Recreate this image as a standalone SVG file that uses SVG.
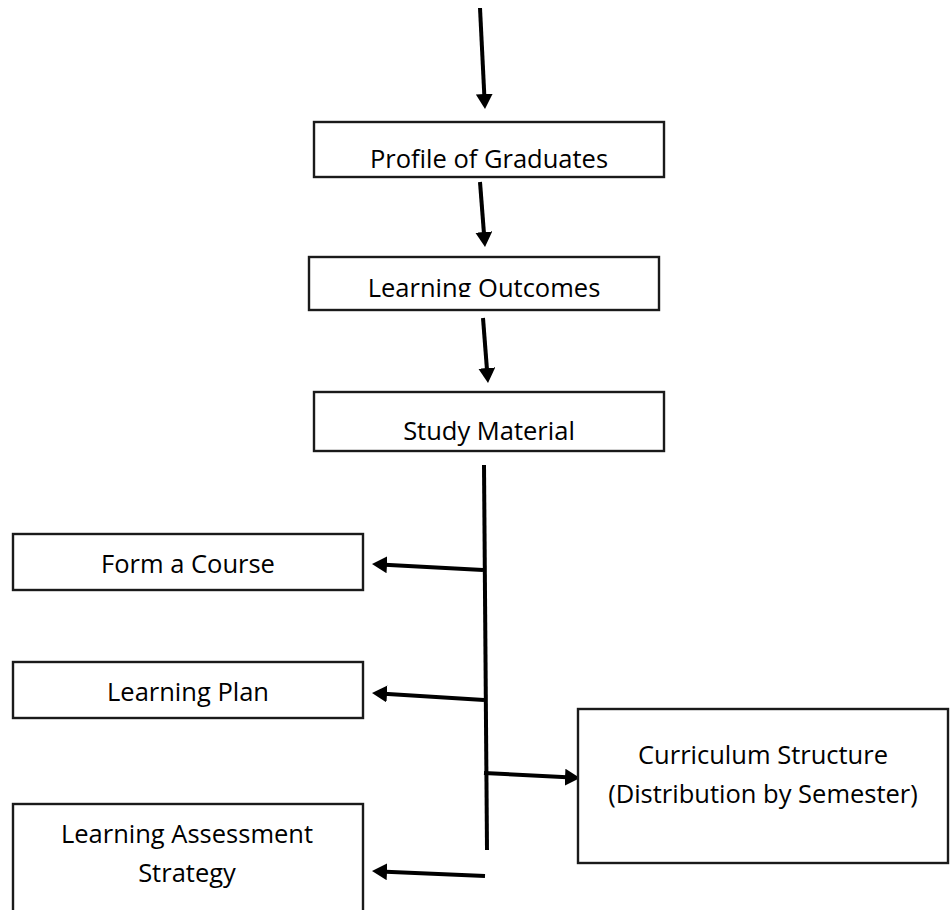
<svg xmlns="http://www.w3.org/2000/svg" width="950" height="910" viewBox="0 0 950 910">
<style>
.box{fill:#fff;stroke:#1a1a1a;stroke-width:2.4}
.lbl{font-family:"Open Sans","Noto Sans",sans-serif;font-size:25.5px;fill:#000;text-anchor:middle}
.c{stroke:#000;stroke-width:4;fill:none}
.ca{stroke:#000;stroke-width:4;fill:none;marker-end:url(#ah)}
</style>
<defs>
<marker id="ah" viewBox="0 0 15 17" refX="7" refY="8.5" markerWidth="15" markerHeight="17" markerUnits="userSpaceOnUse" orient="auto">
<path d="M0,0 L15,8.5 L0,17 z" fill="#000"/>
</marker>
<clipPath id="clipLO"><rect x="309" y="257" width="350" height="40"/></clipPath>
</defs>
<rect width="950" height="910" fill="#fff"/>
<g id="connectors">
<line class="ca" x1="480" y1="8" x2="484.6" y2="101"/>
<line class="ca" x1="480" y1="182" x2="484.4" y2="239"/>
<line class="ca" x1="483" y1="318" x2="487.4" y2="375"/>
<line class="c" x1="484" y1="465" x2="487" y2="850"/>
<line class="ca" x1="483" y1="570" x2="380" y2="564.4"/>
<line class="ca" x1="484" y1="700" x2="380" y2="693.5"/>
<line class="ca" x1="484" y1="773" x2="572" y2="777.6"/>
<line class="ca" x1="485" y1="876" x2="380" y2="871.4"/>
</g>
<g id="profile">
<rect class="box" x="314" y="122" width="350" height="55"/>
<text class="lbl" x="489" y="168">Profile of Graduates</text>
</g>
<g id="outcomes">
<rect class="box" x="309" y="257" width="350" height="53"/>
<text class="lbl" x="484" y="297" clip-path="url(#clipLO)">Learning Outcomes</text>
</g>
<g id="study">
<rect class="box" x="314" y="392" width="350" height="59"/>
<text class="lbl" x="489" y="440">Study Material</text>
</g>
<g id="course">
<rect class="box" x="13" y="534" width="350" height="56"/>
<text class="lbl" x="188" y="573">Form a Course</text>
</g>
<g id="plan">
<rect class="box" x="13" y="662" width="350" height="56"/>
<text class="lbl" x="188" y="701">Learning Plan</text>
</g>
<g id="assessment">
<rect class="box" x="13" y="804" width="350" height="120"/>
<text class="lbl" x="187" y="843">Learning Assessment</text>
<text class="lbl" x="187" y="882">Strategy</text>
</g>
<g id="curriculum">
<rect class="box" x="578" y="709" width="370" height="154"/>
<text class="lbl" x="763" y="764">Curriculum Structure</text>
<text class="lbl" x="763" y="803">(Distribution by Semester)</text>
</g>
</svg>
